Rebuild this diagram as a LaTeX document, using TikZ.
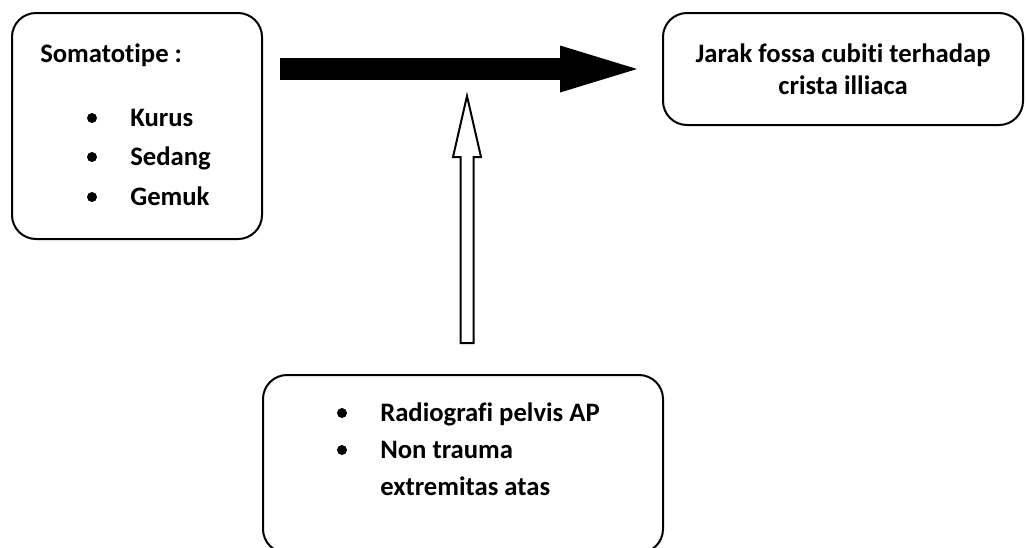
\documentclass[tikz,border=0pt]{standalone}
\usepackage{fontspec}
\setmainfont{Carlito}[Ligatures = NoCommon]
\usetikzlibrary{arrows.meta}
\tikzstyle{diagram} = [x = 0.75pt, y = -0.75pt]
\tikzstyle{boxStyle} = [draw, line width = 1.5pt, rounded corners = 18pt]
\tikzstyle{itemText} = [anchor = base west, inner sep = 0pt, font = \fontsize{20}{24}\selectfont\bfseries]
\tikzstyle{titleText} = [anchor = base, inner sep = 0pt, font = \fontsize{20}{24}\selectfont\bfseries]
\tikzstyle{bulletStyle} = [circle, fill, inner sep = 0pt, minimum size = 7.5pt]
\tikzstyle{bigArrow} = [line width = 16.5pt, -{Triangle[length = 57.75pt, width = 35.25pt, line width = 0pt]}]
\tikzstyle{hollowArrow} = [draw, line width = 1.5pt, fill = white, line join = miter]
\newcommand{\px}{0.75pt}
\newcommand{\bulletItem}[4]{
  \node [bulletStyle] (#1Dot) at (#2, #3 - 8) {};
  \node [itemText] (#1) at (#2 + 38, #3) {#4};
}

\begin{document}
\begin{tikzpicture}[diagram]
  \useasboundingbox (0,0) rectangle (1027,547);

  \node [boxStyle, minimum width = 250*\px, minimum height = 226*\px] (somatotipe) at (137,126) {};
  \node [boxStyle, minimum width = 360*\px, minimum height = 112*\px] (jarak) at (843,69) {};
  \node [boxStyle, minimum width = 400*\px, minimum height = 178*\px] (radiografi) at (463,464) {};

  \node [itemText] (somaTitle) at (40,62) {Somatotipe :};
  \bulletItem{kurus}{92}{126}{Kurus}
  \bulletItem{sedang}{92}{165}{Sedang}
  \bulletItem{gemuk}{92}{205}{Gemuk}

  \node [titleText] (jarakTop) at (843,62) {Jarak fossa cubiti terhadap};
  \node [titleText] (jarakBottom) at (843,94) {crista illiaca};

  \bulletItem{pelvis}{342}{421}{Radiografi pelvis AP}
  \bulletItem{trauma}{342}{458}{Non trauma}
  \node [itemText] (extremitas) at (380,495) {extremitas atas};

  \coordinate (blackTail) at (280,69);
  \coordinate (blackTip) at (637,69);
  \draw [bigArrow] (blackTail) -- (blackTip);

  \coordinate (hollowTip) at (467,96);
  \draw [hollowArrow] (hollowTip) -- ++(14,61) -- ++(-7.5,0) -- ++(0,186) -- ++(-13,0) -- ++(0,-186) -- ++(-7.5,0) -- cycle;
\end{tikzpicture}
\end{document}
